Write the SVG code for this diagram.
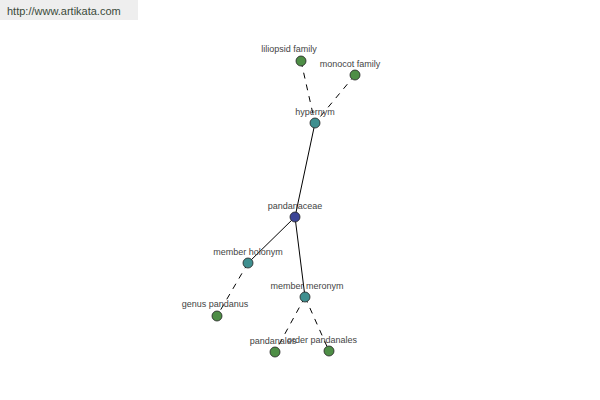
<svg xmlns="http://www.w3.org/2000/svg" width="600" height="400" viewBox="0 0 600 400">
<style>
.lbl{font-family:"Liberation Sans",Arial,sans-serif;font-size:9px;fill:#444;text-anchor:middle}
.n{stroke:#222;stroke-width:0.8}
.leaf{fill:#4e8e46}
.mid{fill:#3f8f8f}
.root{fill:#3c4596}
.e{stroke:#000;stroke-width:1;fill:none}
.d{stroke-dasharray:6,6}
</style>
<rect x="0" y="0" width="138" height="20" fill="#eeeeee"/>
<text x="7" y="15" style="font-family:'Liberation Sans',Arial,sans-serif;font-size:11px;fill:#3a4a3a">http://www.artikata.com</text>
<g id="connectors">
<line class="e" x1="315" y1="123" x2="295" y2="217"/>
<line class="e" x1="295" y1="217" x2="248" y2="263"/>
<line class="e" x1="295" y1="217" x2="305" y2="297"/>
<line class="e d" x1="301" y1="61" x2="315" y2="123"/>
<line class="e d" x1="355" y1="75" x2="315" y2="123"/>
<line class="e d" x1="248" y1="263" x2="217" y2="316"/>
<line class="e d" x1="305" y1="297" x2="275" y2="352"/>
<line class="e d" x1="305" y1="297" x2="329" y2="351"/>
</g>
<g id="liliopsid-family"><circle class="n leaf" cx="301" cy="61" r="5"/><text class="lbl" x="289" y="52">liliopsid family</text></g>
<g id="monocot-family"><circle class="n leaf" cx="355" cy="75" r="5"/><text class="lbl" x="350" y="67">monocot family</text></g>
<g id="hypernym"><circle class="n mid" cx="315" cy="123" r="5"/><text class="lbl" x="315" y="115">hypernym</text></g>
<g id="pandanaceae"><circle class="n root" cx="295" cy="217" r="5"/><text class="lbl" x="295" y="209">pandanaceae</text></g>
<g id="member-holonym"><circle class="n mid" cx="248" cy="263" r="5"/><text class="lbl" x="248" y="255">member holonym</text></g>
<g id="genus-pandanus"><circle class="n leaf" cx="217" cy="316" r="5"/><text class="lbl" x="215" y="307">genus pandanus</text></g>
<g id="member-meronym"><circle class="n mid" cx="305" cy="297" r="5"/><text class="lbl" x="307" y="289">member meronym</text></g>
<g id="pandanales"><circle class="n leaf" cx="275" cy="352" r="5"/><text class="lbl" x="273" y="344">pandanales</text></g>
<g id="order-pandanales"><circle class="n leaf" cx="329" cy="351" r="5"/><text class="lbl" x="322" y="343">order pandanales</text></g>
</svg>
